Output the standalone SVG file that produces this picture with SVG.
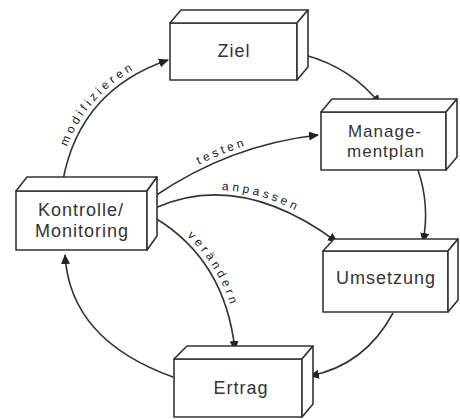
<svg xmlns="http://www.w3.org/2000/svg" xmlns:xlink="http://www.w3.org/1999/xlink" width="460" height="419" viewBox="0 0 460 419">
<style>
.box{fill:#fff;stroke:#333;stroke-width:1.6;stroke-linejoin:round}
.lbl{font-family:"Liberation Sans",Arial,sans-serif;font-size:18px;fill:#333;letter-spacing:1px;text-anchor:middle}
.sm{font-size:17px}
.con{fill:none;stroke:#333;stroke-width:1.6}
.clbl{font-family:"Liberation Sans",Arial,sans-serif;font-size:12px;fill:#222;letter-spacing:3.2px;text-anchor:middle}
</style>
<defs>
<marker id="ah" viewBox="0 0 10 10" refX="9" refY="5" markerWidth="10" markerHeight="10" markerUnits="userSpaceOnUse" orient="auto">
<path d="M0,0.5 L10,5 L0,9.5 Z" fill="#222"/>
</marker>
</defs>
<rect width="460" height="419" fill="#fff"/>

<g id="connectors">
<path id="p1" class="con" d="M305,55 Q352,68 380,104" marker-end="url(#ah)"/>
<path id="p2" class="con" d="M418,170 Q430,205 423,242" marker-end="url(#ah)"/>
<path id="p3" class="con" d="M393,313 Q365,365 310,376" marker-end="url(#ah)"/>
<path id="p4" class="con" d="M173,377 Q70,340 65,255" marker-end="url(#ah)"/>
<path id="p5" class="con" d="M63,180 Q80,90 168,60" marker-end="url(#ah)"/>
<path id="p6" class="con" d="M155,196 Q230,145 318,135" marker-end="url(#ah)"/>
<path id="p7" class="con" d="M155,208 Q240,170 337,242" marker-end="url(#ah)"/>
<path id="p8" class="con" d="M155,218 Q225,260 235,350" marker-end="url(#ah)"/>
<text class="clbl" dy="-5"><textPath xlink:href="#p5" href="#p5" startOffset="50%">modifizieren</textPath></text>
<text class="clbl" dy="-5"><textPath xlink:href="#p6" href="#p6" startOffset="45%">testen</textPath></text>
<text class="clbl" dy="-5"><textPath xlink:href="#p7" href="#p7" startOffset="55%">anpassen</textPath></text>
<text class="clbl" dy="-5"><textPath xlink:href="#p8" href="#p8" startOffset="48%">verändern</textPath></text>
</g>

<g id="ziel">
<rect class="box" x="170" y="23" width="127" height="57"/>
<path class="box" d="M170,23 L181,10 L308,10 L297,23 Z"/>
<path class="box" d="M297,23 L308,10 L308,67 L297,80 Z"/>
<text class="lbl" x="234" y="57">Ziel</text>
</g>

<g id="managementplan">
<rect class="box" x="321" y="112" width="125" height="58"/>
<path class="box" d="M321,112 L332,99 L457,99 L446,112 Z"/>
<path class="box" d="M446,112 L457,99 L457,157 L446,170 Z"/>
<text class="lbl sm" x="385" y="137">Manage-</text>
<text class="lbl sm" x="386" y="157">mentplan</text>
</g>

<g id="umsetzung">
<rect class="box" x="323" y="251" width="125" height="61"/>
<path class="box" d="M323,251 L334,239 L458,239 L448,251 Z"/>
<path class="box" d="M448,251 L458,239 L458,300 L448,312 Z"/>
<text class="lbl" x="386" y="284">Umsetzung</text>
</g>

<g id="ertrag">
<rect class="box" x="174" y="359" width="128" height="58"/>
<path class="box" d="M174,359 L187,346 L313,346 L302,359 Z"/>
<path class="box" d="M302,359 L313,346 L313,404 L302,417 Z"/>
<text class="lbl" x="241" y="394">Ertrag</text>
</g>

<g id="kontrolle">
<rect class="box" x="16" y="191" width="131" height="59"/>
<path class="box" d="M16,191 L27,177 L157,177 L147,191 Z"/>
<path class="box" d="M147,191 L157,177 L157,236 L147,250 Z"/>
<text class="lbl" x="81" y="216">Kontrolle/</text>
<text class="lbl" x="82" y="237">Monitoring</text>
</g>
</svg>
